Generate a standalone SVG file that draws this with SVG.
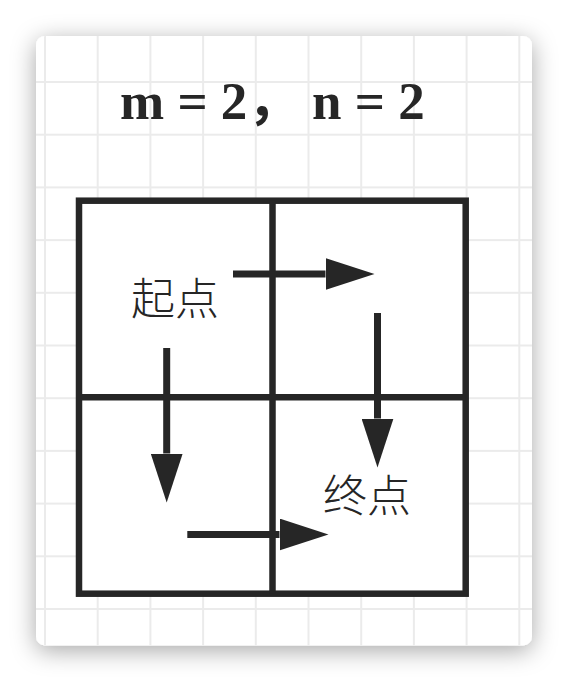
<svg xmlns="http://www.w3.org/2000/svg" width="568" height="682" viewBox="0 0 568 682">
  <defs>
    <filter id="shadow" x="-20%" y="-20%" width="140%" height="140%">
      <feDropShadow dx="0" dy="5" stdDeviation="12" flood-color="#000" flood-opacity="0.35"/>
    </filter>
    <clipPath id="cardClip">
      <rect x="36" y="36" width="496" height="609.5" rx="9"/>
    </clipPath>
    <pattern id="grid" x="45" y="82" width="52.7" height="52.7" patternUnits="userSpaceOnUse">
      <rect x="-1" y="0" width="2" height="52.7" fill="#ebebeb"/>
      <rect x="0" y="-1" width="52.7" height="2" fill="#ebebeb"/>
      <rect x="51.7" y="0" width="2" height="52.7" fill="#ebebeb"/>
      <rect x="0" y="51.7" width="52.7" height="2" fill="#ebebeb"/>
    </pattern>
    <marker id="arrow" viewBox="0 0 49 32" refX="0" refY="16" markerWidth="49" markerHeight="32" markerUnits="userSpaceOnUse" orient="auto">
      <path d="M0,0 L49,16 L0,32 Z" fill="#262626"/>
    </marker>
    <style>
      .cell { fill: none; stroke: #262626; stroke-width: 6.5; }
      .edge { fill: none; stroke: #262626; stroke-width: 7; }
      .title { font-family: "Liberation Serif", "Noto Sans CJK SC", serif; font-weight: bold; font-size: 53px; fill: #262626; }
      .label { font-family: "Noto Sans CJK SC", sans-serif; font-weight: 300; font-size: 44px; fill: #262626; }
    </style>
  </defs>
  <rect width="568" height="682" fill="#ffffff"/>
  <g id="card">
    <rect x="36" y="36" width="496" height="609.5" rx="9" fill="#ffffff" filter="url(#shadow)"/>
    <rect x="36" y="36" width="496" height="609.5" rx="9" fill="url(#grid)" clip-path="url(#cardClip)"/>
  </g>
  <g id="title">
    <text class="title" x="120" y="119">m = 2，</text>
    <text class="title" x="312" y="119">n = 2</text>
  </g>
  <g id="board">
    <rect x="79" y="200.7" width="386.7" height="393" fill="#ffffff"/>
    <rect class="cell" x="79" y="200.7" width="386.7" height="393"/>
    <line class="cell" x1="272.5" y1="200.7" x2="272.5" y2="593.7"/>
    <line class="cell" x1="79" y1="397.3" x2="465.7" y2="397.3"/>
  </g>
  <g id="start">
    <text class="label" x="175" y="315" text-anchor="middle">起点</text>
  </g>
  <g id="end">
    <text class="label" x="367" y="512" text-anchor="middle">终点</text>
  </g>
  <g id="connectors">
    <line class="edge" x1="233" y1="274" x2="325.5" y2="274" marker-end="url(#arrow)"/>
    <line class="edge" x1="377.5" y1="313" x2="377.5" y2="418.5" marker-end="url(#arrow)"/>
    <line class="edge" x1="166.7" y1="348" x2="166.7" y2="453.5" marker-end="url(#arrow)"/>
    <line class="edge" x1="187.3" y1="534.5" x2="279.5" y2="534.5" marker-end="url(#arrow)"/>
  </g>
</svg>
